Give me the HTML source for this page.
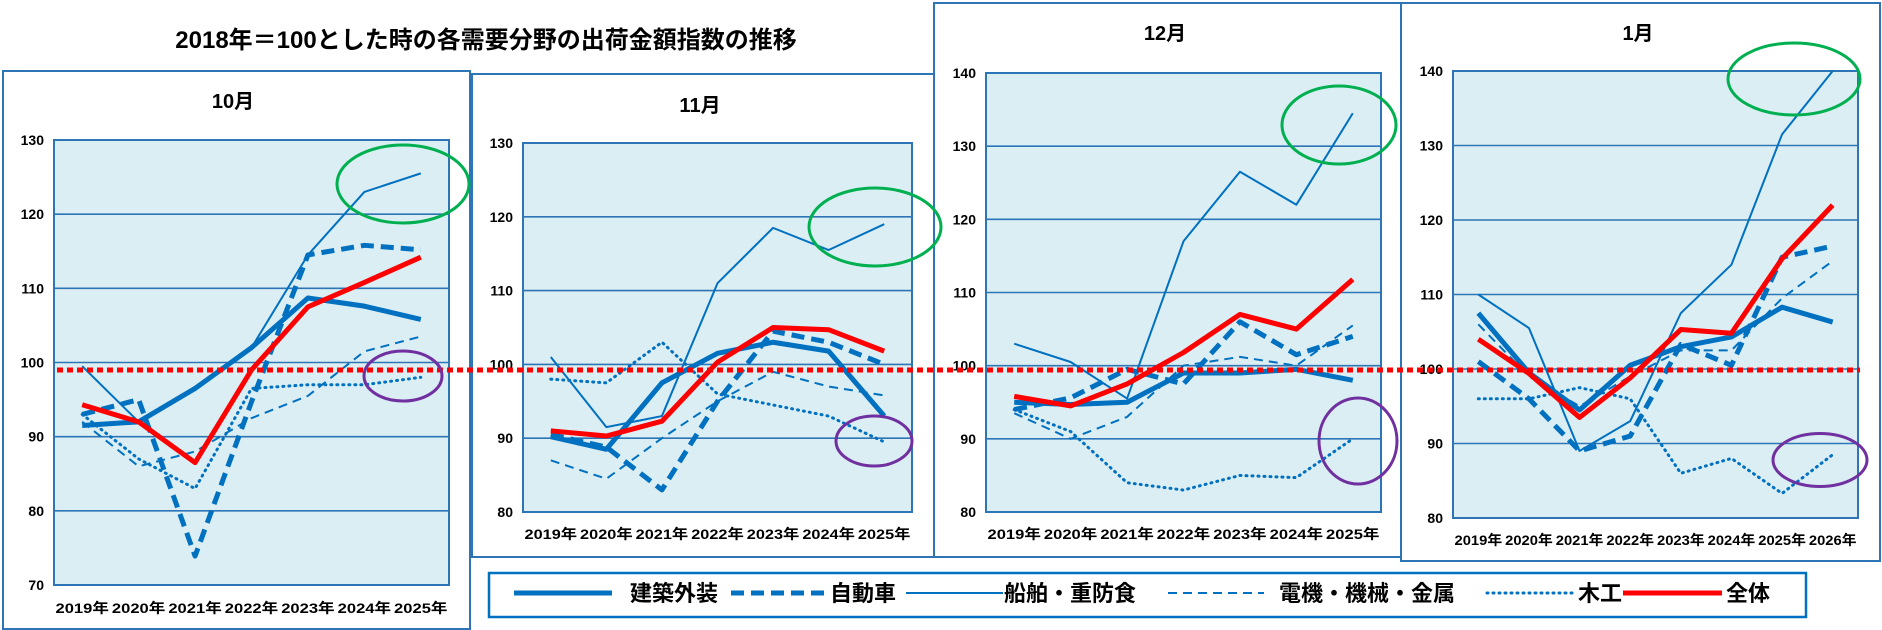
<!DOCTYPE html>
<html><head><meta charset="utf-8"><style>
body{margin:0;background:#fff;width:1882px;height:630px;overflow:hidden}
svg{display:block}
text{font-family:"Liberation Sans","Noto Sans CJK JP",sans-serif}
</style></head><body>
<svg id="s" width="1882" height="630" xmlns="http://www.w3.org/2000/svg">
<text x="486" y="48" text-anchor="middle" font-size="24" font-weight="bold" fill="#000">2018年＝100とした時の各需要分野の出荷金額指数の推移</text>
</svg>
<script>
const S=document.getElementById('s');const NS='http://www.w3.org/2000/svg';
function el(t,a,txt){const e=document.createElementNS(NS,t);for(const k in a)e.setAttribute(k,a[k]);if(txt!=null)e.textContent=txt;S.appendChild(e);return e;}
const B='#0070c0';
const styles=[
 {w:5,d:null},{w:5,d:'13 7'},{w:2,d:null},{w:2,d:'9 6'},{w:3,d:'1 5',cap:'round'},{w:5,d:null,c:'#ff0000'}];
const panels=[
 {b:[2,70,467,558],t:'10月',tx:233,ty:108,p:[54,140,449,585],ymax:130,ymin:70,n:7,xly:613,
  data:[[91.5,92,96.5,102,108.7,107.6,105.8],[93,95,73.9,94.7,114.5,115.8,115.2],[99.5,92,96.5,102,114.5,123,125.5],[92,86,88,92.5,95.5,101.5,103.5],[93,87,83,96.5,97,97,98],[94.3,92,86.5,99,107.5,110.8,114.2]],
  g:[403,184,66,39],pu:[403,376,39,25]},
 {b:[471,73,462,483],t:'11月',tx:700,ty:112,p:[523,143,912,512],ymax:130,ymin:80,n:7,xly:539,
  data:[[90.2,88.5,97.5,101.5,103,101.8,93],[90.5,88.8,83,95,104.5,103,100],[101,91.5,93,111,118.5,115.5,119],[87,84.5,90,95,99,97,95.8],[98,97.5,103,96,94.5,93,89.5],[91,90.3,92.3,100.3,105,104.7,101.8]],
  g:[875,227,66,39],pu:[874,441,38,25]},
 {b:[933,2,467,554],t:'12月',tx:1165,ty:40,p:[986,73,1381,512],ymax:140,ymin:80,n:7,xly:539,
  data:[[95,94.7,95,99,99,99.5,98],[94,95.6,99.5,97.5,106,101.5,104],[103,100.5,95.5,117,126.5,122,134.5],[93.5,90,93,100,101.2,100,105.5],[94,91,84,83,85,84.7,90],[95.8,94.5,97.5,101.8,107,105,111.8]],
  g:[1339,125,57,39],pu:[1358,441,39,43]},
 {b:[1400,2,479,558],t:'1月',tx:1638,ty:40,p:[1453,71,1858,518],ymax:140,ymin:80,n:8,xly:545,
  data:[[107.5,99.5,94.5,100.5,103,104.3,108.3,106.3],[101,96,89,91,103.3,100.5,115,116.5],[110,105.5,89,93,107.5,114,131.5,140],[106,99,95,99,102.5,102.5,109.5,114.5],[96,96,97.5,96,86,88,83.3,88.5],[104,99.4,93.5,98.8,105.3,104.8,114.8,122]],
  g:[1794,79,66,36],pu:[1820,460,47,26.5]}
];
panels.forEach(P=>{
 el('rect',{x:P.b[0]+1,y:P.b[1]+1,width:P.b[2],height:P.b[3],fill:'#fff',stroke:'#2e75b6','stroke-width':2});
 el('text',{x:P.tx,y:P.ty,'text-anchor':'middle','font-size':20,'font-weight':'bold'},P.t);
 const [x0,y0,x1,y1]=P.p;
 el('rect',{x:x0,y:y0,width:x1-x0,height:y1-y0,fill:'#dbeef4',stroke:'#2e75b6','stroke-width':2});
 const Y=v=>y1-(v-P.ymin)/(P.ymax-P.ymin)*(y1-y0);
 for(let v=P.ymin;v<=P.ymax;v+=10){
  if(v>P.ymin&&v<P.ymax)el('line',{x1:x0,x2:x1,y1:Y(v),y2:Y(v),stroke:'#2e75b6','stroke-width':1.6});
  el('text',{x:x0-10,y:Y(v)+5,'text-anchor':'end','font-size':14,'font-weight':'bold'},v);
 }
 const w=(x1-x0)/P.n;const X=i=>x0+w/2+w*i;
 for(let i=0;i<P.n;i++)el('text',{x:X(i),y:P.xly,'text-anchor':'middle','font-size':14,'font-weight':'bold',textLength:Math.min(w-3,54),lengthAdjust:'spacingAndGlyphs'},(2019+i)+'年');
 P.data.forEach((d,k)=>{const st=styles[k];
  const a={points:d.map((v,i)=>X(i)+','+Y(v)).join(' '),fill:'none',stroke:st.c||B,'stroke-width':st.w,'stroke-linejoin':'round'};
  if(st.d)a['stroke-dasharray']=st.d; if(st.cap)a['stroke-linecap']=st.cap;
  el('polyline',a);});
});
el('line',{x1:57,x2:1860,y1:370,y2:370,stroke:'#ff0000','stroke-width':5,'stroke-dasharray':'6 4'});
panels.forEach(P=>{
 el('ellipse',{cx:P.g[0],cy:P.g[1],rx:P.g[2],ry:P.g[3],fill:'none',stroke:'#00b050','stroke-width':3});
 el('ellipse',{cx:P.pu[0],cy:P.pu[1],rx:P.pu[2],ry:P.pu[3],fill:'none',stroke:'#7030a0','stroke-width':3});
});
el('rect',{x:489,y:573,width:1317,height:44,fill:'#fff',stroke:B,'stroke-width':2.5});
const ly=593;
const L=[[514,612,0,'建築外装',630],[731,827,1,'自動車',830],[906,1003,2,'船舶・重防食',1004],[1168,1264,3,'電機・機械・金属',1279],[1487,1577,4,'木工',1578],[1623,1722,5,'全体',1726]];
L.forEach(l=>{const st=styles[l[2]];const a={x1:l[0],x2:l[1],y1:ly,y2:ly,stroke:st.c||B,'stroke-width':st.w};
 if(st.d)a['stroke-dasharray']=st.d;if(st.cap)a['stroke-linecap']=st.cap;el('line',a);
 el('text',{x:l[4],y:ly+8,'font-size':22,'font-weight':'bold'},l[3]);});
</script>
</body></html>
